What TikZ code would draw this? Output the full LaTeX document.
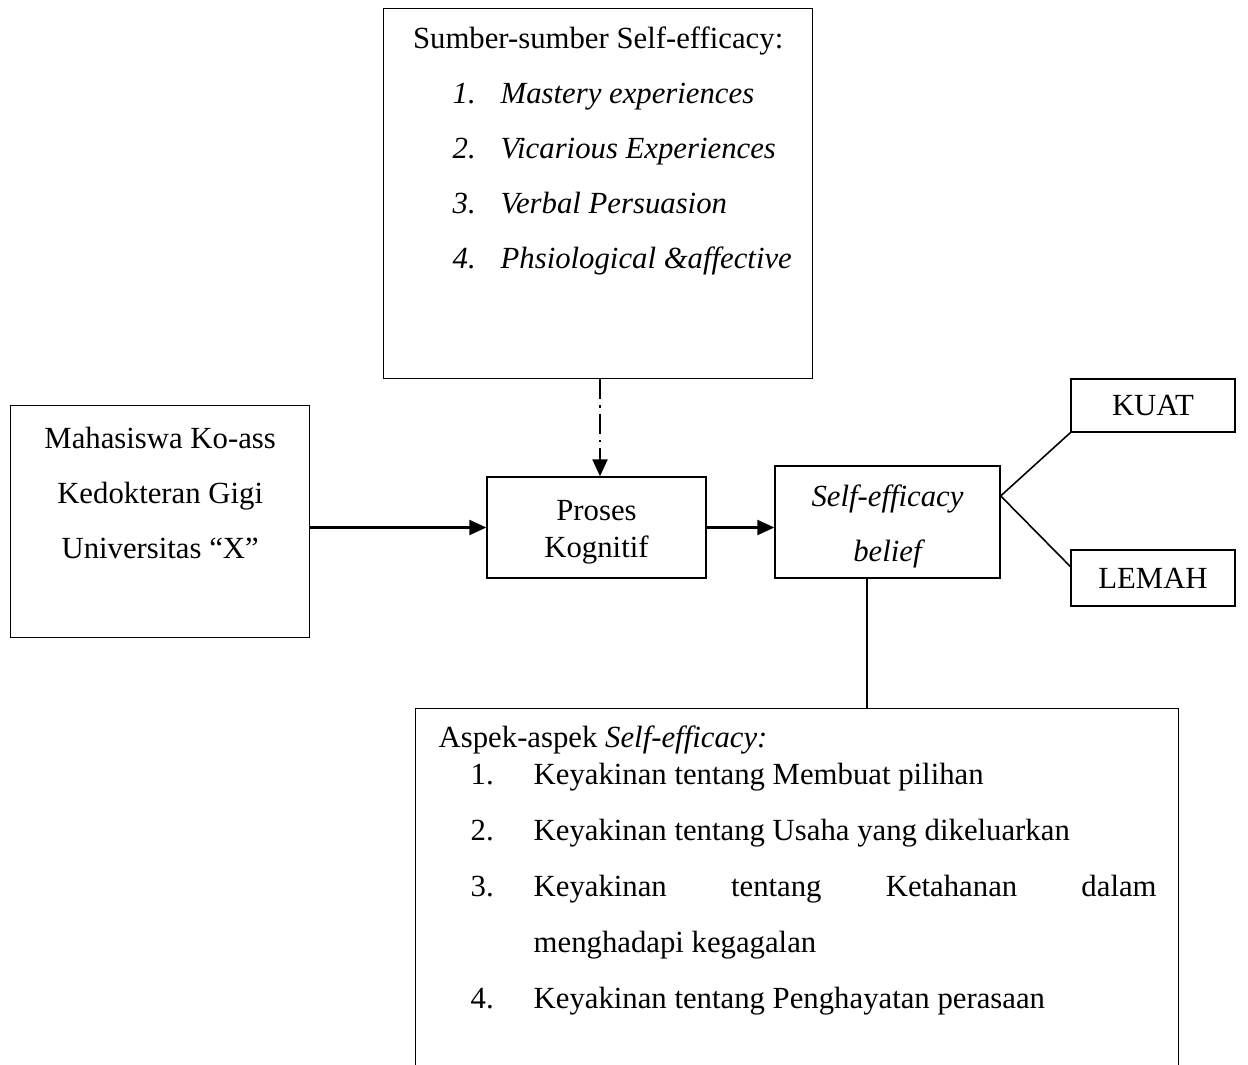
\documentclass[tikz,border=0pt]{standalone}
\usepackage{fontspec}
\setmainfont{Liberation Serif}
\usetikzlibrary{arrows.meta,positioning,calc}
\newcommand{\bigfont}{\fontsize{17.5}{31.3}\selectfont}
\newcommand{\tightfont}{\fontsize{17.5}{21}\selectfont}
\newcommand{\srcitem}[2]{\hspace*{1.38cm}\makebox[0.96cm][l]{\textit{#1}}\textit{#2}}
\newcommand{\aspitem}[2]{\hspace*{1.1cm}\makebox[1.26cm][l]{#1}#2}

\begin{document}
\begin{tikzpicture}[
  x=0.02cm, y=-0.02cm,
  box/.style={draw, line width=0.8pt, inner sep=0pt},
  smallbox/.style={draw, line width=0.8pt, align=center, font=\tightfont},
  arr/.style={-{Triangle[length=0.34cm, width=0.3cm]}, line width=1.3pt},
  dashdot/.style={arr, dash pattern=on 0.4cm off 0.12cm on 0.05cm off 0.12cm},
  link/.style={line width=0.9pt}
]
\useasboundingbox (0,0) rectangle (1248,1065);
\clip (0,0) rectangle (1248,1065);
\node[box, anchor=north west] (sumber) at (383,8)
  {\parbox[t][7.4cm][t]{8.58cm}{\bigfont
   \rule{0pt}{0.8cm}\hfill Sumber-sumber Self-efficacy:\hfill\null\\
   \srcitem{1.}{Mastery experiences}\\
   \srcitem{2.}{Vicarious Experiences}\\
   \srcitem{3.}{Verbal Persuasion}\\
   \srcitem{4.}{Phsiological \&affective}}};
\node[box, anchor=north west] (mhs) at (10,405)
  {\parbox[t][4.64cm][t]{5.98cm}{\bigfont\centering
   \rule{0pt}{0.86cm}Mahasiswa Ko-ass\\
   Kedokteran Gigi\\
   Universitas ``X''}};
\node[smallbox, minimum width=4.38cm, minimum height=2.02cm] (proses) at (596.5,527.5)
  {\rule{0pt}{0.6cm}Proses\\Kognitif};
\node[smallbox, minimum width=4.5cm, minimum height=2.24cm, font=\bigfont\itshape] (belief) at (887.5,522)
  {\rule{0pt}{0.6cm}Self-efficacy\\belief};
\node[smallbox, minimum width=3.28cm, minimum height=1.06cm] (kuat) at (1153,405.5) {KUAT};
\node[smallbox, minimum width=3.28cm, minimum height=1.12cm] (lemah) at (1153,578) {LEMAH};
\node[box, anchor=north west] (aspek) at (415,708)
  {\parbox[t][7.6cm][t]{15.26cm}{\fontsize{17.5}{31.9}\selectfont
   \rule{0pt}{0.78cm}\hspace*{0.46cm}Aspek-aspek \textit{Self-efficacy:}\\[-0.38cm]
   \aspitem{1.}{Keyakinan tentang Membuat pilihan}\\
   \aspitem{2.}{Keyakinan tentang Usaha yang dikeluarkan}\\
   \aspitem{3.}{\makebox[12.46cm][s]{Keyakinan tentang Ketahanan dalam}}\\
   \hspace*{2.36cm}menghadapi kegagalan\\
   \aspitem{4.}{Keyakinan tentang Penghayatan perasaan}}};
% arrows
\draw[arr] (mhs.east |- proses.west) -- (proses.west);
\draw[arr] (proses.east) -- (proses.east -| belief.west);
\draw[dashdot] (sumber.south -| 600,0) -- (proses.north -| 600,0);
% branches
\coordinate (fork) at ($(belief.north east)!0.27!(belief.south east)$);
\draw[link] (fork) -- (kuat.south west);
\draw[link] (fork) -- ($(lemah.north west)!0.3!(lemah.south west)$);
\coordinate (drop) at ($(belief.south west)!0.41!(belief.south east)$);
\draw[link] (drop) -- (drop |- aspek.north);
\end{tikzpicture}
\end{document}
